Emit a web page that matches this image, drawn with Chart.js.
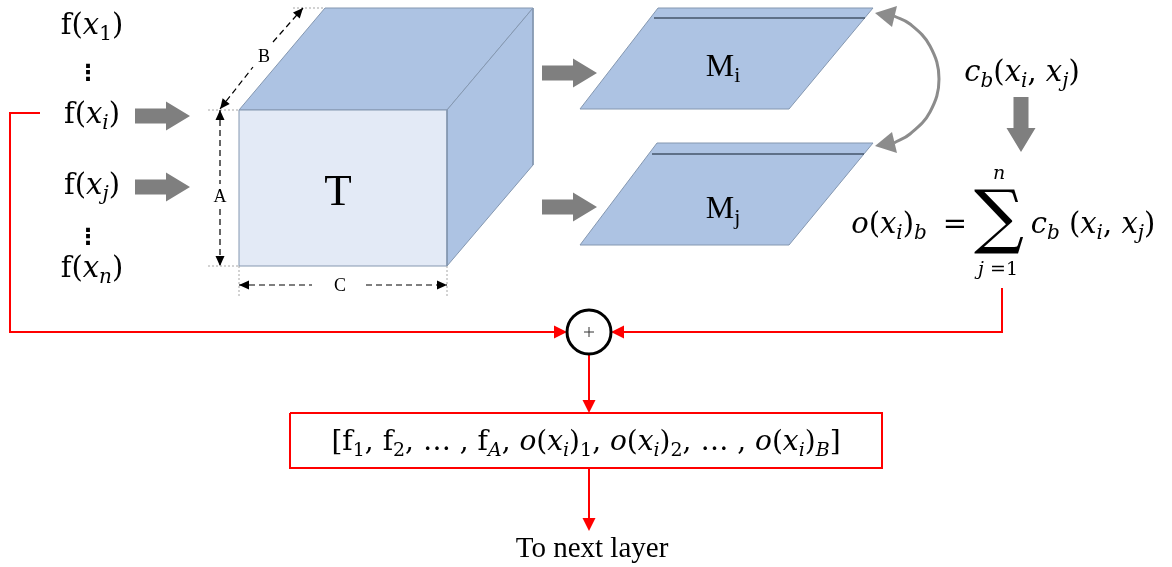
<!DOCTYPE html>
<html>
<head>
<meta charset="utf-8">
<script src="https://cdn.jsdelivr.net/npm/chart.js@4.4.0/dist/chart.umd.min.js"></script>
<style>
  html, body { margin: 0; padding: 0; background: #fff; }
  #wrap { width: 1172px; height: 567px; }
</style>
</head>
<body>
<div id="wrap"><canvas id="diagram" width="1172" height="567"></canvas></div>
<script>
// tensor T drawn as a cube
const cubeFront = [[239,110],[447,110],[447,266],[239,266]];
const cubeTop = [[239,110],[325,8],[533,8],[447,110]];
const cubeSide = [[447,110],[533,8],[533,165],[447,266]];

// the two matrices M_i and M_j
const planeMi = [[580,109],[789,109],[873,8],[658,8]];
const planeMj = [[580,245],[789,245],[873,143],[657,143]];
const stripeMi = [[654,18],[865,18]];
const stripeMj = [[652,154],[864,154]];

// grey block arrows: start, end
const blockArrows = [
  [[135,116],[190,116]],
  [[135,187],[190,187]],
  [[542,73],[597,73]],
  [[542,207],[597,207]],
  [[1021,97],[1021,152]]
];

// dashed dimension lines (A, B, C), split round their letter
const dimA = [[[220,110],[220,184]], [[220,209],[220,266]]];
const dimB = [[[220,109],[253,67]], [[273,42],[303,8]]];
const dimC = [[[239,285],[312,285]], [[366,285],[447,285]]];
const guideLines = [
  [[208,110],[239,110]], [[208,266],[239,266]],
  [[239,266],[239,298]], [[447,266],[447,298]],
  [[293,8],[325,8]]
];

// curved arrow between M_i and M_j
const loopCurve = [[894,16],[910,24],[930,46],[939,79],[930,112],[910,134],[894,143]];
const loopHeads = [
  [[875,13],[897,6],[892,27]],
  [[875,146],[892,132],[897,153]]
];

// red connections and output box
const redLeft = [[40,113],[10,113],[10,332],[567,332]];
const redRight = [[1002,288],[1002,332],[611,332]];
const redDown = [[589,354],[589,413]];
const redOut = [[589,468],[589,531]];
const outBox = [[290,413],[882,413],[882,468],[290,468]];
const sumNode = [[589,332]];

const MATH = '"DejaVu Serif"';
const SERIF = '"Liberation Serif"';
const labels = [
  { x: 92, y: 34, size: 29, font: MATH, runs: [['f(','r'],['x','i'],['1','s'],[')','r']] },
  { x: 88, y: 74, size: 22, font: '"DejaVu Sans"', weight: 'bold', base: 'middle', runs: [['\u22EE','r']] },
  { x: 92, y: 123, size: 29, font: MATH, runs: [['f(','r'],['x','i'],['i','si'],[')','r']] },
  { x: 92, y: 194, size: 29, font: MATH, runs: [['f(','r'],['x','i'],['j','si'],[')','r']] },
  { x: 88, y: 238, size: 22, font: '"DejaVu Sans"', weight: 'bold', base: 'middle', runs: [['\u22EE','r']] },
  { x: 92, y: 277, size: 29, font: MATH, runs: [['f(','r'],['x','i'],['n','si'],[')','r']] },
  { x: 338, y: 205, size: 45, font: SERIF, runs: [['T','r']] },
  { x: 220, y: 202, size: 18, font: SERIF, runs: [['A','r']] },
  { x: 264, y: 62, size: 18, font: SERIF, runs: [['B','r']] },
  { x: 340, y: 291, size: 18, font: SERIF, runs: [['C','r']] },
  { x: 723, y: 76, size: 32, font: SERIF, runs: [['M','r'],['i','s']] },
  { x: 723, y: 218, size: 32, font: SERIF, runs: [['M','r'],['j','s']] },
  { x: 1022, y: 81, size: 29, font: MATH, runs: [['c','i'],['b','si'],['(','r'],['x','i'],['i','si'],[', ','r'],['x','i'],['j','si'],[')','r']] },
  { x: 889, y: 233, size: 29, font: MATH, runs: [['o','i'],['(','r'],['x','i'],['i','si'],[')','r'],['b','si']] },
  { x: 955, y: 233, size: 29, font: MATH, runs: [['=','r']] },
  { x: 999, y: 240, size: 70, font: MATH, runs: [['\u2211','r']] },
  { x: 999, y: 179, size: 19, font: MATH, runs: [['n','i']] },
  { x: 998, y: 275, size: 19, font: MATH, runs: [['j','i'],[' =1','r']] },
  { x: 1093, y: 233, size: 29, font: MATH, runs: [['c','i'],['b','si'],[' (','r'],['x','i'],['i','si'],[', ','r'],['x','i'],['j','si'],[')','r']] },
  { x: 586, y: 450, size: 28, font: MATH, runs: [
    ['[f','r'],['1','s'],[', f','r'],['2','s'],[', \u2026 , f','r'],['A','si'],[', ','r'],
    ['o','i'],['(','r'],['x','i'],['i','si'],[')','r'],['1','s'],[', ','r'],
    ['o','i'],['(','r'],['x','i'],['i','si'],[')','r'],['2','s'],[', \u2026 , ','r'],
    ['o','i'],['(','r'],['x','i'],['i','si'],[')','r'],['B','si'],[']','r']] },
  { x: 592, y: 557, size: 29, font: SERIF, runs: [['To next layer','r']] }
];

const GREY = '#7f7f7f';
const EDGE = '#8497b0';
const BLUE = '#adc3e3';
const RED = '#ff0000';

const pts = arr => arr.map(p => ({ x: p[0], y: p[1] }));

function shape(arr, fillColor, stroke, width, closed) {
  const list = closed ? arr.concat([arr[0]]) : arr;
  return {
    data: pts(list),
    backgroundColor: fillColor || 'transparent',
    borderColor: stroke || 'transparent',
    borderWidth: width || 0,
    fill: fillColor ? 'shape' : false,
    pointRadius: 0,
    borderJoinStyle: 'miter'
  };
}

function line(arr, color, width, dash) {
  const ds = shape(arr, null, color, width, false);
  if (dash) ds.borderDash = dash;
  return ds;
}

// triangle head at the end of a segment
function head(from, tip, len, half) {
  const dx = tip[0] - from[0], dy = tip[1] - from[1];
  const d = Math.hypot(dx, dy);
  const ux = dx / d, uy = dy / d;
  const bx = tip[0] - ux * len, by = tip[1] - uy * len;
  return [tip, [bx - uy * half, by + ux * half], [bx + uy * half, by - ux * half]];
}

function blockArrow(from, to) {
  const dx = to[0] - from[0], dy = to[1] - from[1];
  const d = Math.hypot(dx, dy);
  const ux = dx / d, uy = dy / d;
  const sh = 7.5, hh = 14.5, hl = 24;
  const bx = to[0] - ux * hl, by = to[1] - uy * hl;
  return [
    [from[0] - uy * sh, from[1] + ux * sh],
    [bx - uy * sh, by + ux * sh],
    [bx - uy * hh, by + ux * hh],
    to,
    [bx + uy * hh, by - ux * hh],
    [bx + uy * sh, by - ux * sh],
    [from[0] + uy * sh, from[1] - ux * sh]
  ];
}

const datasets = [];

// cube
datasets.push(shape(cubeTop, BLUE, EDGE, 1, true));
datasets.push(shape(cubeSide, BLUE, EDGE, 1, true));
datasets.push(shape(cubeFront, '#e3eaf6', EDGE, 1, true));

// guides and dimensions
guideLines.forEach(g => datasets.push(line(g, '#a6a6a6', 1, [2, 2])));
[dimA, dimB, dimC].forEach(parts => {
  parts.forEach(p => datasets.push(line(p, '#000', 1.2, [6, 4])));
  const first = parts[0], last = parts[parts.length - 1];
  datasets.push(shape(head(first[1], first[0], 10, 4.5), '#000', null, 0, true));
  datasets.push(shape(head(last[0], last[1], 10, 4.5), '#000', null, 0, true));
});

// matrices
datasets.push(shape(planeMi, BLUE, EDGE, 1, true));
datasets.push(line(stripeMi, '#44546a', 1.5));
datasets.push(shape(planeMj, BLUE, EDGE, 1, true));
datasets.push(line(stripeMj, '#44546a', 1.5));

// grey arrows
blockArrows.forEach(a => datasets.push(shape(blockArrow(a[0], a[1]), GREY, null, 0, true)));
const loop = line(loopCurve, '#8c8c8c', 3);
loop.tension = 0.4;
datasets.push(loop);
loopHeads.forEach(h => datasets.push(shape(h, '#8c8c8c', null, 0, true)));

// red paths
[redLeft, redRight, redDown, redOut].forEach(r => {
  const n = r.length;
  const h = head(r[n - 2], r[n - 1], 13, 6.5);
  const base = [(h[1][0] + h[2][0]) / 2, (h[1][1] + h[2][1]) / 2];
  datasets.push(line(r.slice(0, n - 1).concat([base]), RED, 2));
  datasets.push(shape(h, RED, null, 0, true));
});
datasets.push(shape(outBox, '#ffffff', RED, 2, true));

// summation node
datasets.push({
  data: pts(sumNode), showLine: false,
  pointRadius: 22, pointBorderWidth: 3,
  pointBackgroundColor: '#fff', pointBorderColor: '#000'
});
datasets.push({
  data: pts(sumNode), showLine: false, pointStyle: 'cross',
  pointRadius: 5, pointBorderWidth: 1, pointBorderColor: '#333'
});

datasets.forEach((d, i) => { d.order = -i; d.clip = false; });

function drawRich(ctx, cx, cy, l) {
  const s = l.size;
  const fontOf = kind => {
    const italic = kind === 'i' || kind === 'si' ? 'italic ' : '';
    const sz = kind === 's' || kind === 'si' ? Math.round(s * 0.68) : s;
    return italic + (l.weight ? l.weight + ' ' : '') + sz + 'px ' + l.font;
  };
  let w = 0;
  l.runs.forEach(r => { ctx.font = fontOf(r[1]); w += ctx.measureText(r[0]).width; });
  let px = cx - w / 2;
  ctx.save();
  ctx.fillStyle = '#000';
  ctx.textAlign = 'left';
  ctx.textBaseline = l.base || 'alphabetic';
  l.runs.forEach(r => {
    ctx.font = fontOf(r[1]);
    const off = r[1] === 's' || r[1] === 'si' ? s * 0.2 : 0;
    ctx.fillText(r[0], px, cy + off);
    px += ctx.measureText(r[0]).width;
  });
  ctx.restore();
}

const textPlugin = {
  id: 'diagramText',
  afterDatasetsDraw(chart) {
    const { ctx, scales } = chart;
    labels.forEach(l => drawRich(ctx, scales.x.getPixelForValue(l.x), scales.y.getPixelForValue(l.y), l));
  }
};

new Chart(document.getElementById('diagram').getContext('2d'), {
  type: 'line',
  data: { datasets: datasets },
  options: {
    responsive: false,
    animation: false,
    events: [],
    layout: { padding: 0, autoPadding: false },
    scales: {
      x: { type: 'linear', min: 0, max: 1172, display: false },
      y: { type: 'linear', min: 0, max: 567, reverse: true, display: false }
    },
    plugins: { legend: { display: false }, tooltip: { enabled: false } }
  },
  plugins: [textPlugin]
});
</script>
</body>
</html>
